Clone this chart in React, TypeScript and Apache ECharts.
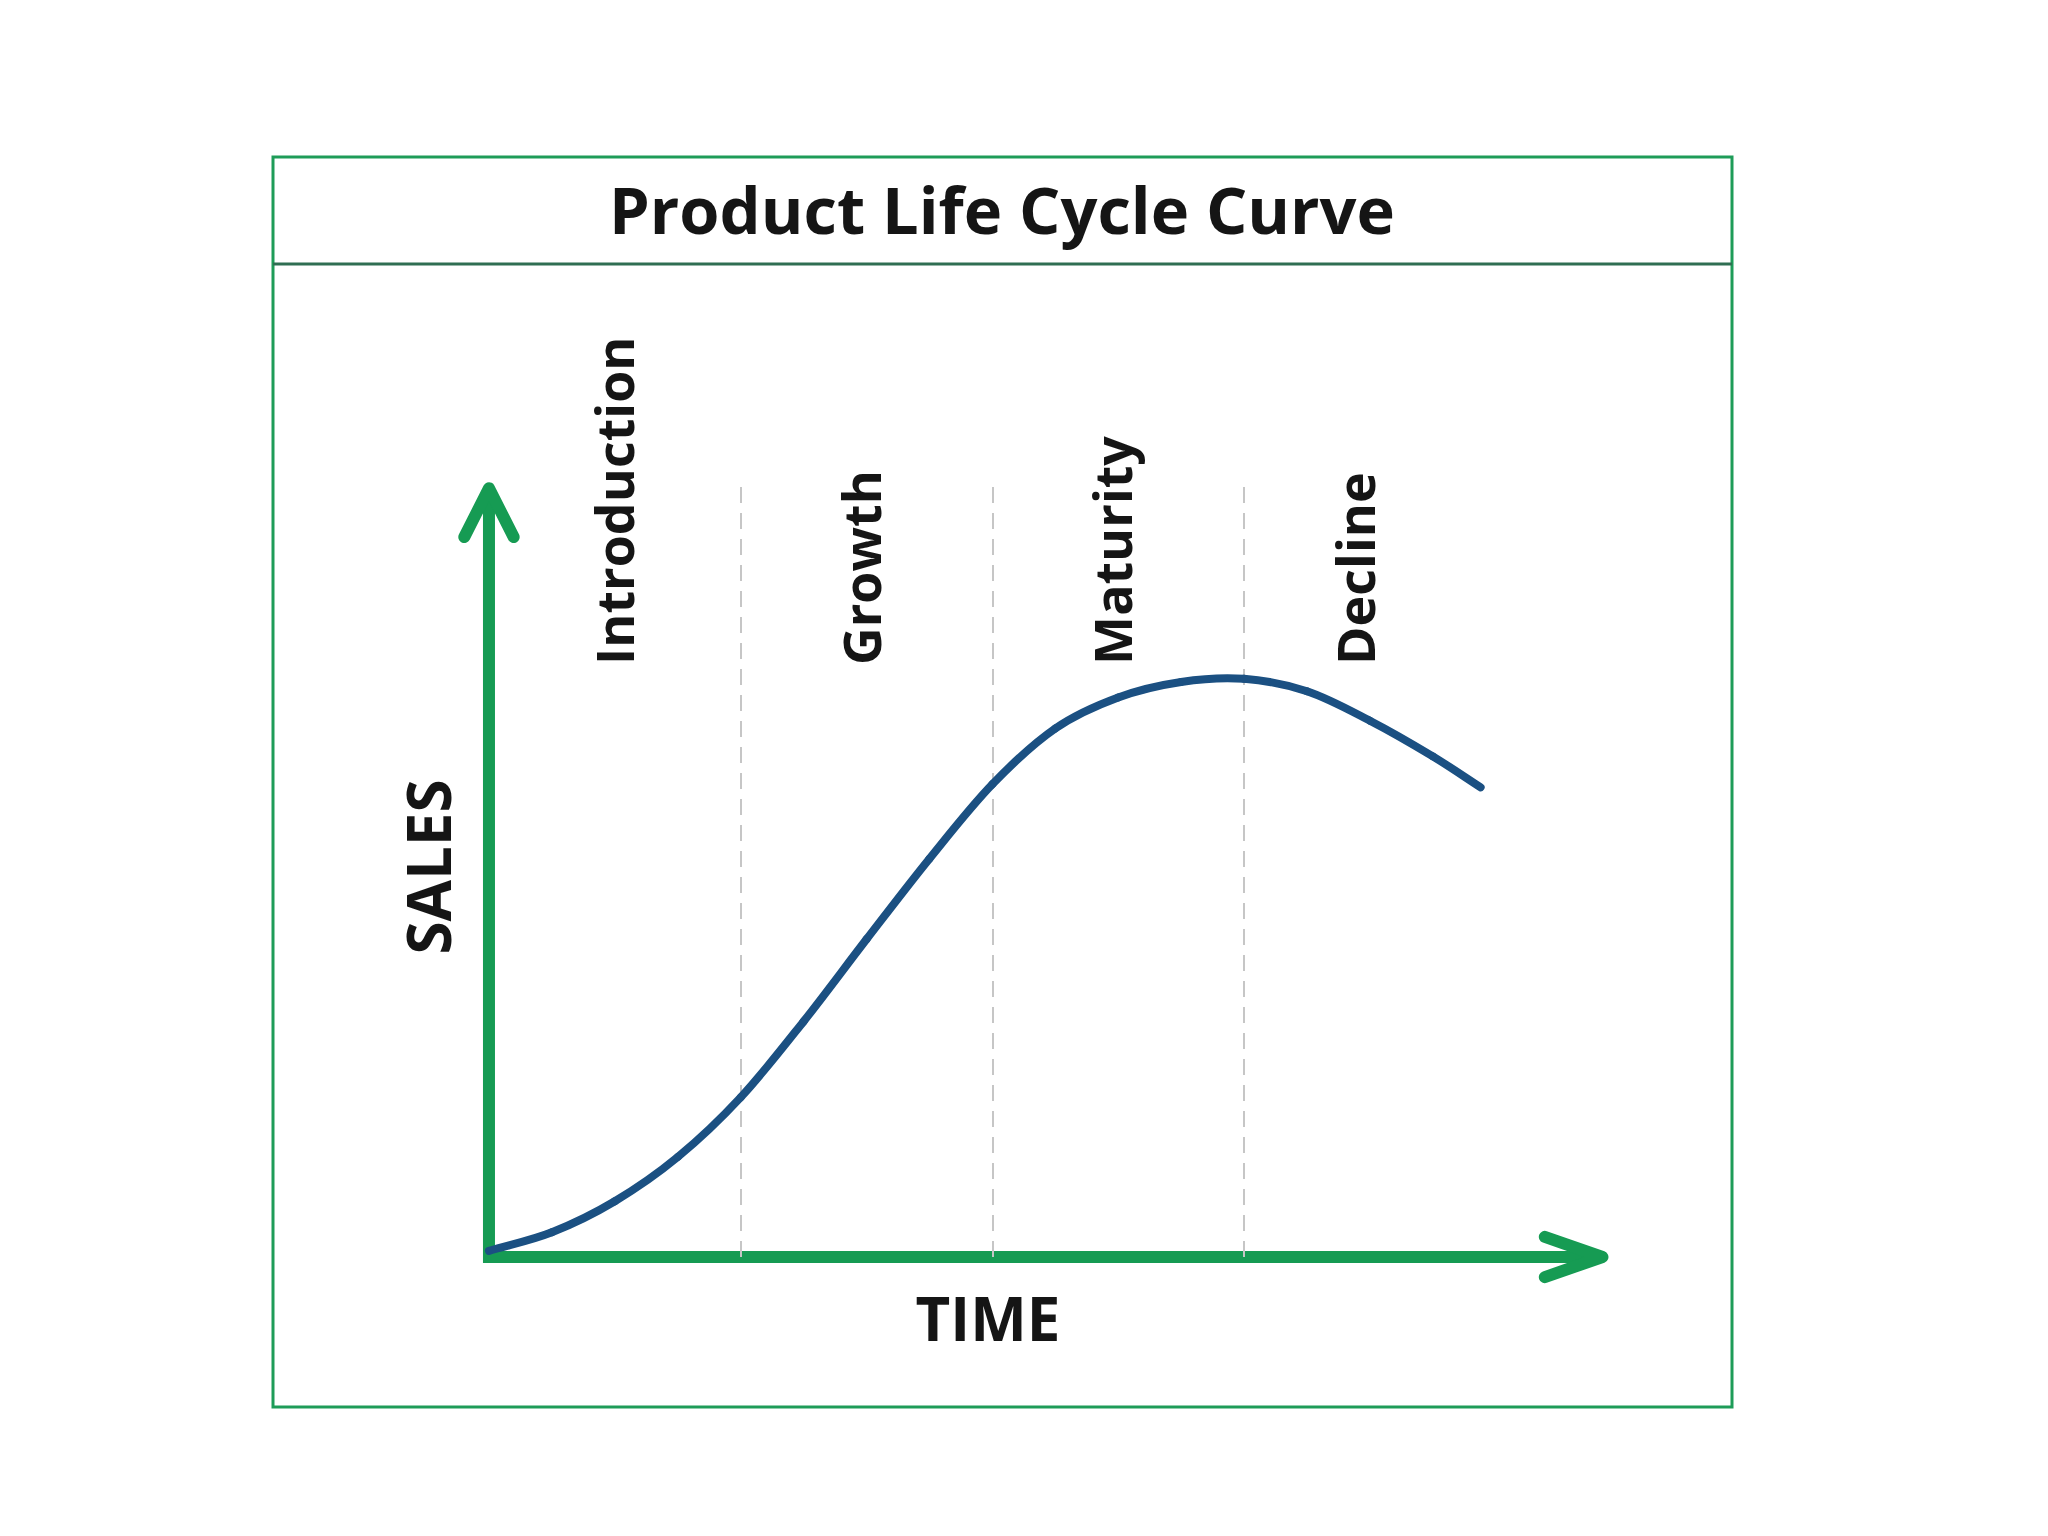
import React, { useEffect, useRef } from "react";
import * as echarts from "echarts";

const titleText = "Product Life Cycle Curve";
const xAxisName = "TIME";
const yAxisName = "SALES";
const phaseNames = ["Introduction", "Growth", "Maturity", "Decline"];
const phaseCenters = [0.495, 1.475, 2.475, 3.44];
const phaseLabelBase = [76.4, 76.4, 76.4, 76.4];
const phaseBoundaries = [1, 2, 3];
const timeValues = [0, 0.25, 0.5, 0.75, 1, 1.25, 1.5, 1.75, 2, 2.25, 2.5, 2.75, 3, 3.25, 3.5, 3.75, 3.94];
const salesValues = [0.8, 3.2, 7.2, 12.9, 20.6, 30.4, 41.0, 51.4, 61.0, 68.2, 72.2, 74.2, 74.6, 73.0, 69.2, 64.6, 60.6];
const axesPath = [[0, 99.2], [0, 0], [4.42, 0]];
const yArrowHead = [[-0.098, 92.9], [0, 99.2], [0.098, 92.9]];
const xArrowHead = [[4.195, 2.6], [4.424, 0], [4.195, -2.6]];
const boundaryRange = [0, 100];

const GREEN = "#169b53";
const BLUE = "#1b5082";
const FONT = "'Open Sans', 'DejaVu Sans', sans-serif";
const TEXT = "#151515";

export default function App() {
  const ref = useRef<HTMLDivElement>(null);
  useEffect(() => {
    if (!ref.current) return;
    const chart = echarts.init(ref.current, undefined, { renderer: "svg" });
    const staticGraphics: any[] = [
      {
        type: "rect",
        shape: { x: 273, y: 157, width: 1459, height: 1250 },
        style: { fill: "none", stroke: "#1e9c58", lineWidth: 3 },
      },
      {
        type: "line",
        shape: { x1: 273, y1: 264, x2: 1732, y2: 264 },
        style: { stroke: "#2f6e52", lineWidth: 3 },
      },
      {
        type: "text",
        x: 1002,
        y: 209,
        style: {
          text: titleText,
          fill: TEXT,
          font: `bold 65px ${FONT}`,
          align: "center",
          verticalAlign: "middle",
        },
      },
      {
        type: "text",
        x: 428,
        y: 867,
        rotation: Math.PI / 2,
        style: {
          text: yAxisName,
          fill: TEXT,
          font: `bold 60px ${FONT}`,
          align: "center",
          verticalAlign: "middle",
        },
      },
      {
        type: "text",
        x: 988,
        y: 1318,
        style: {
          text: xAxisName,
          fill: TEXT,
          font: `bold 60px ${FONT}`,
          align: "center",
          verticalAlign: "middle",
        },
      },
    ];
    const greenLine = { color: GREEN, width: 12, cap: "round", join: "round" };
    const n = timeValues.length;
    // slope (in pixel space) at point j, from neighbouring points
    const slopeAt = (api: any, j: number): number => {
      const a = api.coord([timeValues[Math.max(0, j - 1)], salesValues[Math.max(0, j - 1)]]);
      const b = api.coord([timeValues[Math.min(n - 1, j + 1)], salesValues[Math.min(n - 1, j + 1)]]);
      return (b[1] - a[1]) / (b[0] - a[0]);
    };
    const option: any = {
      animation: false,
      backgroundColor: "#ffffff",
      grid: { left: 388.3, top: 482, width: 1220.7, height: 813.75 },
      xAxis: {
        type: "value",
        min: -0.4,
        max: 4.45,
        axisLine: { show: false },
        axisTick: { show: false },
        axisLabel: { show: false },
        splitLine: { show: false },
      },
      yAxis: {
        type: "value",
        min: -5,
        max: 100,
        axisLine: { show: false },
        axisTick: { show: false },
        axisLabel: { show: false },
        splitLine: { show: false },
      },
      graphic: staticGraphics,
      series: [
        {
          type: "line",
          data: axesPath,
          symbol: "none",
          clip: false,
          lineStyle: { ...greenLine, cap: "butt", join: "miter" },
          z: 2,
          silent: true,
          markLine: {
            silent: true,
            symbol: ["none", "none"],
            label: { show: false },
            lineStyle: { type: [16, 10], color: "#c6c6c6", width: 2 },
            data: phaseBoundaries.map((b) => [
              { coord: [b, boundaryRange[0]] },
              { coord: [b, boundaryRange[1]] },
            ]),
          },
        },
        {
          type: "line",
          data: yArrowHead,
          symbol: "none",
          clip: false,
          lineStyle: greenLine,
          z: 2,
          silent: true,
        },
        {
          type: "line",
          data: xArrowHead,
          symbol: "none",
          clip: false,
          lineStyle: greenLine,
          z: 2,
          silent: true,
        },
        {
          type: "custom",
          data: timeValues.map((t, i) => [t, salesValues[i]]),
          encode: { x: 0, y: 1 },
          z: 5,
          silent: true,
          renderItem: (params: any, api: any) => {
            const i = params.dataIndex;
            if (i >= n - 1) return null;
            const p1 = api.coord([timeValues[i], salesValues[i]]);
            const p2 = api.coord([timeValues[i + 1], salesValues[i + 1]]);
            const m1 = slopeAt(api, i);
            const m2 = slopeAt(api, i + 1);
            const h = (p2[0] - p1[0]) / 3;
            return {
              type: "bezierCurve",
              shape: {
                x1: p1[0],
                y1: p1[1],
                cpx1: p1[0] + h,
                cpy1: p1[1] + m1 * h,
                cpx2: p2[0] - h,
                cpy2: p2[1] - m2 * h,
                x2: p2[0],
                y2: p2[1],
              },
              style: { stroke: BLUE, lineWidth: 8, fill: "none", lineCap: "round" },
            };
          },
        },
      ],
    };
    chart.setOption(option);
    const phaseGraphics = phaseNames.map((name, i) => {
      const p = chart.convertToPixel({ gridIndex: 0 }, [phaseCenters[i], phaseLabelBase[i]]) as number[];
      return {
        type: "text",
        x: p[0],
        y: p[1],
        rotation: Math.PI / 2,
        style: {
          text: name,
          fill: TEXT,
          font: `bold 52px ${FONT}`,
          align: "left",
          verticalAlign: "middle",
        },
      };
    });
    chart.setOption({ graphic: [...staticGraphics, ...phaseGraphics] });
    return () => chart.dispose();
  }, []);
  return (
    <div
      ref={ref}
      style={{ position: "absolute", left: 0, top: 0, width: 2048, height: 1536 }}
    />
  );
}
